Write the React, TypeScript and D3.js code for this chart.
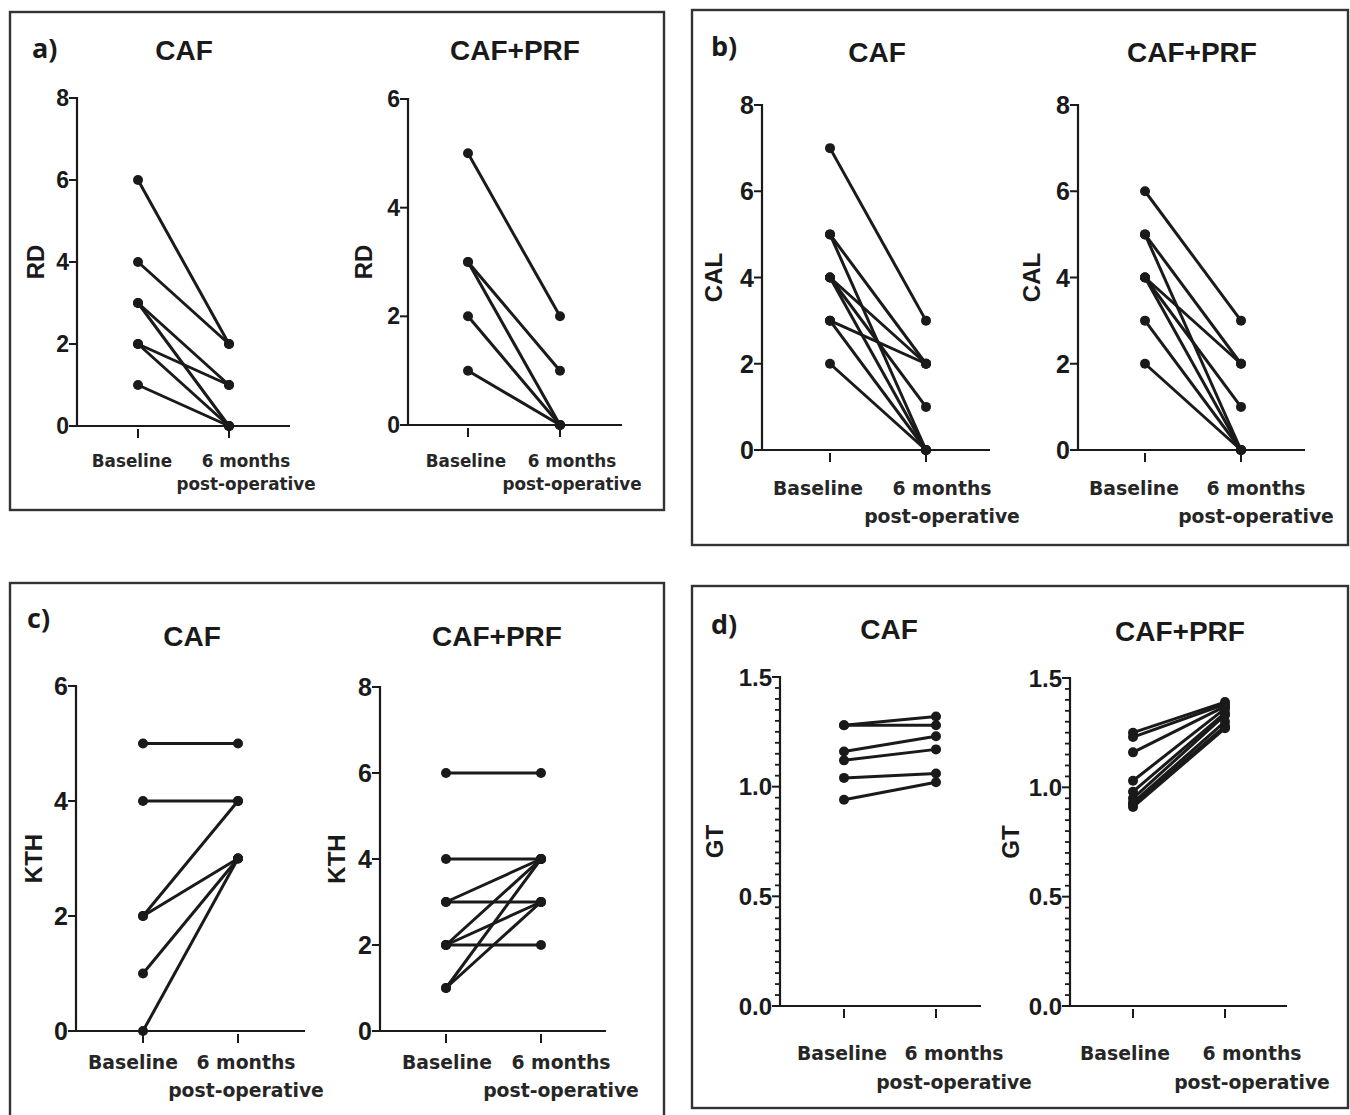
import React from "react";
import * as d3 from "d3";

// ---- data ----
const categories = ["Baseline", "6 months"];

const rdCafBaseline = [6, 4, 3, 3, 2, 2, 1];
const rdCafPost = [2, 2, 1, 0, 1, 0, 0];
const rdPrfBaseline = [5, 3, 3, 2, 1];
const rdPrfPost = [2, 1, 0, 0, 0];

const calCafBaseline = [7, 5, 5, 4, 4, 4, 3, 3, 2];
const calCafPost = [3, 2, 0, 2, 1, 0, 2, 0, 0];
const calPrfBaseline = [6, 5, 5, 4, 4, 4, 3, 2];
const calPrfPost = [3, 2, 0, 2, 1, 0, 0, 0];

const kthCafBaseline = [5, 4, 2, 2, 1, 0];
const kthCafPost = [5, 4, 4, 3, 3, 3];
const kthPrfBaseline = [6, 4, 3, 3, 2, 2, 2, 1, 1];
const kthPrfPost = [6, 4, 4, 3, 4, 3, 2, 4, 3];

const gtCafBaseline = [1.28, 1.28, 1.16, 1.12, 1.04, 0.94];
const gtCafPost = [1.32, 1.28, 1.23, 1.17, 1.06, 1.02];
const gtPrfBaseline = [1.25, 1.23, 1.16, 1.03, 0.98, 0.95, 0.93, 0.92, 0.91];
const gtPrfPost = [1.39, 1.38, 1.37, 1.36, 1.34, 1.33, 1.3, 1.28, 1.27];

const intTicks = [0, 2, 4, 6, 8];
const gtTicks = [0, 0.5, 1.0, 1.5];

const INK = "#1a1a1a";
const ARIAL = "'Liberation Sans', Arial, sans-serif";
const CAT_FONT = "'DejaVu Sans', sans-serif";

type Sub = {
  title: string;
  titleX: number;
  titleY: number;
  yLabel: string;
  yLabelX: number;
  axisX: number;
  axisEnd: number;
  yTop: number;
  y0: number;
  max: number;
  ticks: number[];
  minor?: number;
  fmt?: (v: number) => string;
  baseX: number;
  postX: number;
  baseLabelX: number;
  postLabelX: number;
  catY1: number;
  catY2: number;
  catSize: number;
  tickSize: number;
  base: number[];
  post: number[];
};

type Panel = {
  letter: string;
  box: [number, number, number, number];
  letterX: number;
  letterY: number;
  subs: Sub[];
};

const panels: Panel[] = [
  {
    letter: "a)",
    box: [10, 12, 654, 498],
    letterX: 32,
    letterY: 58,
    subs: [
      {
        title: "CAF", titleX: 184, titleY: 60, yLabel: "RD", yLabelX: 35,
        axisX: 77, axisEnd: 290, yTop: 98, y0: 426, max: 8, ticks: intTicks.filter(t => t <= 8),
        baseX: 138, postX: 229, baseLabelX: 132, postLabelX: 246,
        catY1: 467, catY2: 490, catSize: 16.8, tickSize: 23,
        base: rdCafBaseline, post: rdCafPost,
      },
      {
        title: "CAF+PRF", titleX: 515, titleY: 60, yLabel: "RD", yLabelX: 363,
        axisX: 408, axisEnd: 622, yTop: 99, y0: 425, max: 6, ticks: intTicks.filter(t => t <= 6),
        baseX: 468, postX: 560, baseLabelX: 466, postLabelX: 572,
        catY1: 467, catY2: 490, catSize: 16.8, tickSize: 23,
        base: rdPrfBaseline, post: rdPrfPost,
      },
    ],
  },
  {
    letter: "b)",
    box: [692, 10, 656, 535],
    letterX: 711,
    letterY: 56,
    subs: [
      {
        title: "CAF", titleX: 877, titleY: 62, yLabel: "CAL", yLabelX: 713,
        axisX: 762, axisEnd: 990, yTop: 105, y0: 450, max: 8, ticks: intTicks,
        baseX: 830, postX: 926, baseLabelX: 818, postLabelX: 942,
        catY1: 495, catY2: 523, catSize: 18.8, tickSize: 25,
        base: calCafBaseline, post: calCafPost,
      },
      {
        title: "CAF+PRF", titleX: 1192, titleY: 62, yLabel: "CAL", yLabelX: 1031,
        axisX: 1078, axisEnd: 1305, yTop: 105, y0: 450, max: 8, ticks: intTicks,
        baseX: 1145, postX: 1241, baseLabelX: 1134, postLabelX: 1256,
        catY1: 495, catY2: 523, catSize: 18.8, tickSize: 25,
        base: calPrfBaseline, post: calPrfPost,
      },
    ],
  },
  {
    letter: "c)",
    box: [10, 583, 654, 540],
    letterX: 27,
    letterY: 628,
    subs: [
      {
        title: "CAF", titleX: 192, titleY: 646, yLabel: "KTH", yLabelX: 33,
        axisX: 76, axisEnd: 305, yTop: 686, y0: 1031, max: 6, ticks: intTicks.filter(t => t <= 6),
        baseX: 143, postX: 238, baseLabelX: 133, postLabelX: 246,
        catY1: 1069, catY2: 1097, catSize: 18.8, tickSize: 25,
        base: kthCafBaseline, post: kthCafPost,
      },
      {
        title: "CAF+PRF", titleX: 497, titleY: 646, yLabel: "KTH", yLabelX: 336,
        axisX: 380, axisEnd: 606, yTop: 687, y0: 1031, max: 8, ticks: intTicks,
        baseX: 446, postX: 541, baseLabelX: 447, postLabelX: 561,
        catY1: 1069, catY2: 1097, catSize: 18.8, tickSize: 25,
        base: kthPrfBaseline, post: kthPrfPost,
      },
    ],
  },
  {
    letter: "d)",
    box: [692, 586, 656, 522],
    letterX: 711,
    letterY: 634,
    subs: [
      {
        title: "CAF", titleX: 889, titleY: 639, yLabel: "GT", yLabelX: 714,
        axisX: 780, axisEnd: 981, yTop: 677, y0: 1006, max: 1.5, ticks: gtTicks, minor: 0.05,
        fmt: d3.format(".1f"),
        baseX: 844, postX: 936, baseLabelX: 842, postLabelX: 954,
        catY1: 1060, catY2: 1089, catSize: 18.8, tickSize: 24,
        base: gtCafBaseline, post: gtCafPost,
      },
      {
        title: "CAF+PRF", titleX: 1180, titleY: 641, yLabel: "GT", yLabelX: 1010,
        axisX: 1070, axisEnd: 1287, yTop: 678, y0: 1006, max: 1.5, ticks: gtTicks, minor: 0.05,
        fmt: d3.format(".1f"),
        baseX: 1133, postX: 1225, baseLabelX: 1125, postLabelX: 1252,
        catY1: 1060, catY2: 1089, catSize: 18.8, tickSize: 24,
        base: gtPrfBaseline, post: gtPrfPost,
      },
    ],
  },
];

function SubPlot({ s }: { s: Sub }) {
  const y = d3.scaleLinear().domain([0, s.max]).range([s.y0, s.yTop]);
  const x = d3.scalePoint<string>().domain(categories).range([s.baseX, s.postX]);
  const fmt = s.fmt || ((v: number) => String(v));
  const minorTicks = s.minor
    ? d3.range(0, s.max + 1e-9, s.minor).filter(v => !s.ticks.some(t => Math.abs(t - v) < 1e-6))
    : [];
  const pairs = s.base.map((b, i) => [b, s.post[i]]);
  const midY = (s.y0 + s.yTop) / 2;

  return (
    <g>
      <text x={s.titleX} y={s.titleY} textAnchor="middle" fontFamily={ARIAL} fontWeight="bold" fontSize={28} fill={INK}>
        {s.title}
      </text>
      <text
        transform={`translate(${s.yLabelX},${midY}) rotate(-90)`}
        textAnchor="middle"
        dominantBaseline="central"
        fontFamily={ARIAL}
        fontWeight="bold"
        fontSize={24}
        fill={INK}
      >
        {s.yLabel}
      </text>
      {/* axes */}
      <line x1={s.axisX} x2={s.axisX} y1={y(s.max) - 1} y2={s.y0 + 1} stroke={INK} strokeWidth={2.2} />
      <line x1={s.axisX} x2={s.axisEnd} y1={s.y0} y2={s.y0} stroke={INK} strokeWidth={2.2} />
      {s.ticks.map(t => (
        <g key={t}>
          <line x1={s.axisX - 8} x2={s.axisX} y1={y(t)} y2={y(t)} stroke={INK} strokeWidth={2} />
          <text x={s.axisX - 8} y={y(t)} textAnchor="end" dominantBaseline="central" fontFamily={ARIAL} fontWeight="bold" fontSize={s.tickSize} fill={INK}>
            {fmt(t)}
          </text>
        </g>
      ))}
      {minorTicks.map(t => (
        <line key={"m" + t} x1={s.axisX - 5} x2={s.axisX} y1={y(t)} y2={y(t)} stroke={INK} strokeWidth={1.8} />
      ))}
      {categories.map(c => (
        <line key={c} x1={x(c)} x2={x(c)} y1={s.y0 + 3} y2={s.y0 + 12} stroke={INK} strokeWidth={2} />
      ))}
      {/* category labels */}
      <text x={s.baseLabelX} y={s.catY1} textAnchor="middle" fontFamily={CAT_FONT} fontWeight="bold" fontSize={s.catSize} fill="#262626">
        Baseline
      </text>
      <text x={s.postLabelX} y={s.catY1} textAnchor="middle" fontFamily={CAT_FONT} fontWeight="bold" fontSize={s.catSize} fill="#262626">
        6 months
      </text>
      <text x={s.postLabelX} y={s.catY2} textAnchor="middle" fontFamily={CAT_FONT} fontWeight="bold" fontSize={s.catSize} fill="#262626">
        post-operative
      </text>
      {/* paired lines */}
      {pairs.map(([b, p], i) => (
        <line key={"l" + i} x1={x(categories[0])} y1={y(b)} x2={x(categories[1])} y2={y(p)} stroke={INK} strokeWidth={3} />
      ))}
      {pairs.map(([b, p], i) => (
        <g key={"d" + i}>
          <circle cx={x(categories[0])} cy={y(b)} r={5} fill={INK} />
          <circle cx={x(categories[1])} cy={y(p)} r={5} fill={INK} />
        </g>
      ))}
    </g>
  );
}

export default function App() {
  return (
    <svg
      width={1350}
      height={1115}
      style={{ position: "absolute", left: 0, top: 0, background: "#fff" }}
    >
      <rect x={0} y={0} width={1350} height={1115} fill="#fff" />
      {panels.map(p => (
        <g key={p.letter}>
          <rect x={p.box[0]} y={p.box[1]} width={p.box[2]} height={p.box[3]} fill="none" stroke="#333" strokeWidth={2.4} />
          <text x={p.letterX} y={p.letterY} fontFamily="'Open Sans', sans-serif" fontWeight="bold" fontSize={27} fill={INK}>
            {p.letter}
          </text>
          {p.subs.map((s, i) => (
            <SubPlot key={i} s={s} />
          ))}
        </g>
      ))}
    </svg>
  );
}
